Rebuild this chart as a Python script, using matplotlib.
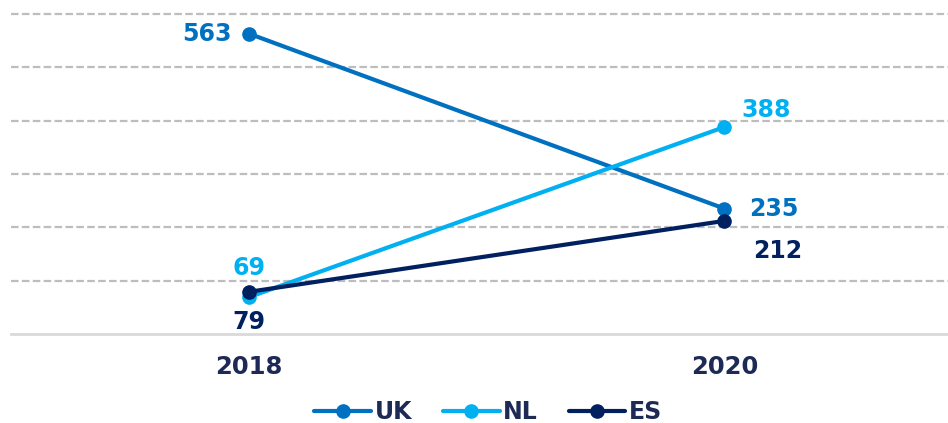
import matplotlib.pyplot as plt

years = ["2018", "2020"]
uk = [563, 235]
nl = [69, 388]
es = [79, 212]
series_names = ["UK", "NL", "ES"]
colors = ["#0070C0", "#00B0F0", "#002060"]

# label offsets in pixels for each series / point
offsets = {
    "UK": [(-17, 0, "right", "center"), (25, 0, "left", "center")],
    "NL": [(0, 29, "center", "center"), (42, 17, "center", "center")],
    "ES": [(0, -30, "center", "center"), (53, -30, "center", "center")],
}


def main():
    fig = plt.figure(figsize=(9.48, 4.23), dpi=100)
    ax = fig.add_axes([0.0116, 0.2104, 0.9884, 0.7896])
    x = list(range(len(years)))
    for name, vals, col in zip(series_names, [uk, nl, es], colors):
        ax.plot(x, vals, color=col, lw=3, marker="o", markersize=9.5,
                label=name, solid_capstyle="round", zorder=3)
        for i, v in enumerate(vals):
            dx, dy, ha, va = offsets[name][i]
            ax.annotate(str(v), (x[i], v), xytext=(dx, dy),
                        textcoords="offset pixels", ha=ha, va=va,
                        fontsize=17, fontweight="bold", color=col)
    ax.set_xlim(-0.5, 1.47)
    ax.set_ylim(0, 626)
    ax.set_yticks([100, 200, 300, 400, 500, 600])
    ax.yaxis.grid(True, color="#bdbdbd", lw=1.6, linestyle=(0, (3.4, 1.5)))
    ax.set_axisbelow(True)
    ax.tick_params(axis="y", left=False, labelleft=False)
    ax.set_xticks(x)
    ax.set_xticklabels(years, fontsize=17.5, fontweight="bold", color="#1c2a55")
    ax.tick_params(axis="x", length=0, pad=15)
    for s in ["top", "right", "left"]:
        ax.spines[s].set_visible(False)
    ax.spines["bottom"].set_color("#d9d9d9")
    ax.spines["bottom"].set_linewidth(2)
    leg = fig.legend(loc="center", bbox_to_anchor=(0.515, 0.026), ncol=3,
                     frameon=False, handlelength=2.4, columnspacing=1.3,
                     handletextpad=0.15,
                     prop={"size": 17, "weight": "bold"})
    for t in leg.get_texts():
        t.set_color("#1c2a55")
    fig.savefig("out.png", dpi=100)
    plt.close()


if __name__ == '__main__':
    main()
